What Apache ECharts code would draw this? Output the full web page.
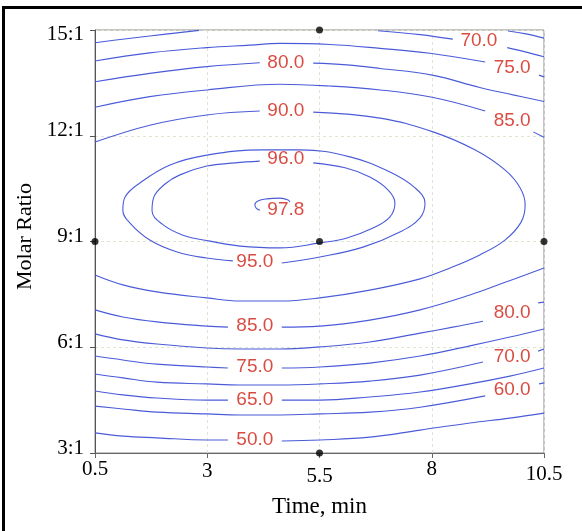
<!DOCTYPE html>
<html><head><meta charset="utf-8">
<script src="https://cdn.jsdelivr.net/npm/echarts@6/dist/echarts.min.js"></script>
<style>html,body{margin:0;padding:0;background:#fff}#c{width:582px;height:531px}</style>
</head><body><div id="c"></div>
<script>
// ---- axis ticks ----
const timeTicks = [0.5, 3, 5.5, 8, 10.5];
const ratioTicks = [3, 6, 9, 12, 15];
const ratioLabels = ['3:1', '6:1', '9:1', '12:1', '15:1'];

// ---- design points [time, ratio] ----
const designPoints = [[5.5, 15], [0.5, 9], [5.5, 9], [10.5, 9], [5.5, 3]];

// ---- contour lines: each is a list of segments of [time, ratio] ----
const contour50 = [
  [[0.5,3.57],[1.12,3.48],[1.88,3.43],[2.99,3.37],[3.46,3.37]],
  [[4.66,3.34],[5.51,3.37],[6.62,3.45],[7.74,3.65],[8.85,3.85],[9.74,3.99],[10.5,4.13]]
];
const contour60 = [
  [[0.5,4.33],[1.12,4.25],[1.88,4.16],[2.99,4.11],[3.73,4.08],[4.62,4.08],[5.51,4.11],[6.62,4.16],[7.74,4.30],[9.19,4.62]],
  [[10.39,4.96],[10.5,4.99]]
];
const contour65 = [
  [[0.5,4.76],[1.12,4.65],[1.88,4.56],[2.99,4.50],[3.46,4.50]],
  [[4.66,4.50],[5.51,4.50],[6.62,4.59],[7.74,4.73],[8.85,4.96],[9.74,5.18],[10.5,5.41]],
  [[9.70,14.97],[10.10,14.89],[10.5,14.77]]
];
const contour70 = [
  [[0.5,5.24],[1.12,5.13],[1.88,5.01],[2.99,4.96],[3.73,4.93],[4.62,4.93],[5.51,4.96],[6.62,5.04],[7.74,5.21],[9.14,5.58]],
  [[10.37,5.89],[10.5,5.95]],
  [[0.5,14.64],[1.06,14.73],[1.72,14.83],[2.82,14.99]],
  [[6.80,14.98],[7.74,14.87],[8.47,14.74]],
  [[9.68,14.50],[10.08,14.38],[10.5,14.24]]
];
const contour75 = [
  [[0.5,5.75],[1.12,5.64],[1.88,5.52],[2.99,5.44],[3.46,5.41]],
  [[4.66,5.41],[5.51,5.44],[6.62,5.55],[7.74,5.75],[8.85,6.04],[9.74,6.29],[10.5,6.52]],
  [[0.5,14.12],[1.72,14.35],[2.99,14.50],[3.95,14.57],[4.62,14.62],[5.73,14.59],[6.85,14.48],[7.96,14.34],[9.19,14.09]],
  [[10.39,13.72],[10.5,13.67]]
];
const contour80 = [
  [[0.5,6.38],[1.12,6.21],[1.88,6.09],[2.99,5.98],[3.73,5.95],[4.62,5.95],[5.51,6.01],[6.62,6.15],[7.74,6.40],[8.47,6.57],[9.14,6.74]],
  [[10.37,7.26],[10.5,7.28]],
  [[0.5,13.53],[1.72,13.77],[2.99,13.96],[4.17,14.07]],
  [[5.36,14.06],[6.11,14.01],[6.85,13.91],[8.01,13.72],[9.07,13.37],[9.81,13.16],[10.5,12.97]]
];
const contour85 = [
  [[0.5,7.06],[1.12,6.86],[1.88,6.72],[2.99,6.60],[3.46,6.57]],
  [[4.66,6.57],[5.51,6.60],[6.62,6.77],[7.74,7.06],[8.85,7.48],[9.59,7.82],[10.5,8.25]],
  [[0.5,12.81],[1.72,13.11],[2.99,13.30],[4.62,13.46],[5.73,13.41],[6.85,13.30],[8.01,13.09],[9.19,12.70]],
  [[10.26,12.11],[10.5,11.96]]
];
const contour90 = [
  [[0.5,11.82],[1.72,12.30],[2.99,12.59],[4.17,12.70]],
  [[5.36,12.67],[6.85,12.50],[8.03,12.11],[8.96,11.60],[9.63,11.03],[9.97,10.52],[10.08,10.04],[9.99,9.55],[9.63,9.04],[9.07,8.62],[8.41,8.25],[7.74,7.94],[6.62,7.62],[5.51,7.40],[4.62,7.31],[3.73,7.31],[2.99,7.40],[1.88,7.57],[1.12,7.77],[0.5,8.05]]
];
const contour95 = [
  [[4.66,8.39],[5.51,8.56],[6.47,8.84],[7.29,9.27],[7.74,9.67],[7.85,10.09],[7.63,10.52],[7.07,10.97],[6.18,11.40],[5.07,11.60],[4.24,11.60],[2.99,11.45],[2.17,11.17],[1.50,10.66],[1.17,10.26],[1.12,9.89],[1.28,9.52],[1.72,9.04],[2.33,8.70],[2.99,8.53],[3.57,8.45]]
];
const contour96 = [
  [[5.36,11.23],[6.07,11.09],[6.62,10.83],[7.03,10.46],[7.18,10.09],[7.07,9.70],[6.69,9.38],[6.11,9.10],[5.51,8.96],[4.62,8.82],[3.73,8.87],[3.06,9.01],[2.46,9.18],[1.99,9.50],[1.77,9.87],[1.81,10.26],[2.06,10.63],[2.39,10.89],[2.99,11.14],[3.62,11.23],[4.17,11.28]]
];
const contour978 = [
  [[4.17,9.89],[4.09,9.95],[4.06,10.04],[4.13,10.15],[4.33,10.21],[4.62,10.23],[4.80,10.18],[4.84,10.12]]
];

// ---- contour labels ----
const labelText  = ['97.8','96.0','95.0','90.0','80.0','85.0','75.0','65.0','50.0','70.0','75.0','85.0','80.0','70.0','60.0'];
const labelTime  = [4.75, 4.75, 4.06, 4.75, 4.75, 4.06, 4.06, 4.06, 4.06, 9.05, 9.79, 9.79, 9.79, 9.79, 9.79];
const labelRatio = [9.89, 11.34, 8.42, 12.70, 14.06, 6.60, 5.44, 4.50, 3.37, 14.69, 13.92, 12.42, 6.97, 5.72, 4.79];

const allContours = [contour50, contour60, contour65, contour70, contour75, contour80, contour85, contour90, contour95, contour96, contour978];

const LINE_COLOR = '#4a5bd8';
const LABEL_COLOR = '#cf1e12';
const SERIF = '"Liberation Serif","Times New Roman",serif';
const SANS = '"Liberation Sans",Arial,sans-serif';

const series = [];
allContours.forEach(c => c.forEach(seg => {
  series.push({
    type: 'line', data: seg, symbol: 'none', showSymbol: false, smooth: 0.4,
    lineStyle: { color: LINE_COLOR, width: 1.1 }, silent: true, z: 2
  });
}));
series.push({
  type: 'scatter', symbolSize: 2, z: 4, silent: true,
  data: labelText.map((t, i) => ({ value: [labelTime[i], labelRatio[i]], name: t })),
  itemStyle: { color: 'rgba(255,255,255,0)' },
  label: { show: true, position: 'inside', formatter: '{b}', color: LABEL_COLOR, fontFamily: SANS, fontSize: 19 }
});
series.push({
  type: 'scatter', data: designPoints, symbolSize: 7, z: 5, silent: true,
  itemStyle: { color: '#000' }
});

const xPad = { '0.5': 'a', '3': 'b', '5.5': 'c', '8': 'a', '10.5': 'd' };
const tickFont = { fontFamily: SERIF, fontSize: 21, color: '#000' };

const chart = echarts.init(document.getElementById('c'), null, { renderer: 'canvas' });
chart.setOption({
  animation: false,
  backgroundColor: '#fff',
  grid: { left: 95, top: 30, width: 449, height: 423, show: true, borderColor: '#8a8a8a', borderWidth: 1, outerBoundsMode: 'none', containLabel: false },
  xAxis: {
    type: 'value', min: timeTicks[0], max: timeTicks[timeTicks.length - 1], interval: 2.5,
    name: 'Time, min', nameLocation: 'middle', nameGap: 42,
    nameTextStyle: { fontFamily: SERIF, fontSize: 23, color: '#000' },
    axisLine: { show: true, lineStyle: { color: '#666', width: 1 } },
    axisTick: { show: true, length: 5, lineStyle: { color: '#666' } },
    splitLine: { show: true, lineStyle: { color: '#dfe5d3', type: [3, 3], width: 1 } },
    axisLabel: {
      margin: 6, ...tickFont,
      formatter: v => '{' + (xPad[String(v)] || 'a') + '|' + v + '}',
      rich: {
        a: { ...tickFont, padding: [0, 0, 0, 0] },
        b: { ...tickFont, padding: [2, 0, 0, 0] },
        c: { ...tickFont, padding: [7, 0, 0, 0] },
        d: { ...tickFont, padding: [5, 0, 0, 0] }
      }
    }
  },
  yAxis: {
    type: 'value', min: ratioTicks[0], max: ratioTicks[ratioTicks.length - 1], interval: 3,
    name: 'Molar Ratio', nameLocation: 'middle', nameGap: 50, nameRotate: 90,
    nameTextStyle: { fontFamily: SERIF, fontSize: 22, color: '#000', padding: [0, 0, 0, 10] },
    axisLine: { show: true, lineStyle: { color: '#555', width: 1 } },
    axisTick: { show: true, length: 5, lineStyle: { color: '#555' } },
    splitLine: { show: true, lineStyle: { color: '#dfe5d3', type: [3, 3], width: 1 } },
    axisLabel: {
      margin: 11, ...tickFont,
      formatter: v => {
        const s = ratioLabels[ratioTicks.indexOf(v)] || '';
        return v === 15 ? '{dn|' + s + '}' : '{up|' + s + '}';
      },
      rich: {
        dn: { ...tickFont, padding: [8, 0, 0, 0] },
        up: { ...tickFont, padding: [0, 0, 10, 0] }
      }
    }
  },
  graphic: [
    { type: 'line', shape: { x1: 2, y1: 7.5, x2: 582, y2: 7.5 }, style: { stroke: '#000', lineWidth: 3 } },
    { type: 'line', shape: { x1: 3.5, y1: 6, x2: 3.5, y2: 531 }, style: { stroke: '#000', lineWidth: 3 } }
  ],
  series: series
});
</script></body></html>
